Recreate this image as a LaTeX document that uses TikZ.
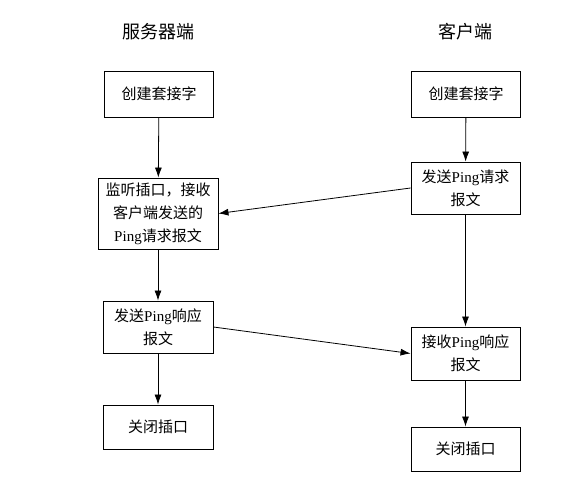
\documentclass[tikz,border=0pt]{standalone}
\usepackage{fontspec}
\setmainfont{Liberation Serif}
\newfontfamily\cjk{Noto Sans CJK SC}
\usepackage{tikz}
\usetikzlibrary{arrows.meta}

\newcommand{\png}{{\rmfamily Ping}}

\begin{document}
\begin{tikzpicture}[x=1pt,y=-1pt]
  \tikzset{myedge/.style={-{Latex[length=10pt,width=7pt]}, line width=0.8pt}};
  \tikzset{mybox/.style={draw=black, line width=0.9pt, align=center, inner sep=0pt,
      font=\cjk\fontsize{15}{23}\selectfont, minimum width=109pt, minimum height=46pt}};
  \tikzset{mytitle/.style={font=\cjk\fontsize{18}{20}\selectfont}};
  \useasboundingbox (0,0) rectangle (563,500);

  \node[mytitle] (st) at (158,32) {服务器端};
  \node[mytitle] (ct) at (465,32) {客户端};

  % server side
  \node[mybox] (s1) at (159,94) {创建套接字};
  \node[mybox,minimum width=120pt,minimum height=71pt] (s2) at (158,213.5)
    {监听插口，接收\\客户端发送的\\\png 请求报文};
  \node[mybox,minimum width=110pt,minimum height=52pt] (s3) at (158,327)
    {发送\png 响应\\报文};
  \node[mybox,minimum width=110pt,minimum height=44pt] (s4) at (158,427) {关闭插口};

  % client side
  \node[mybox] (c1) at (466,94) {创建套接字};
  \node[mybox,minimum height=52pt] (c2) at (465.5,188) {发送\png 请求\\报文};
  \node[mybox,minimum height=53pt] (c3) at (465.5,353.5) {接收\png 响应\\报文};
  \node[mybox,minimum height=44pt] (c4) at (465.5,449) {关闭插口};

  \draw [myedge] (s1) -- (s2);
  \draw [myedge] (s2) -- (s3);
  \draw [myedge] (s3) -- (s4);
  \draw [myedge] (c1) -- (c2);
  \draw [myedge] (c2) -- (c3);
  \draw [myedge] (c3) -- (c4);

  \draw [myedge] (c2.west) -- (s2.east);
  \draw [myedge] (s3.east) -- (c3.west);
\end{tikzpicture}
\end{document}
